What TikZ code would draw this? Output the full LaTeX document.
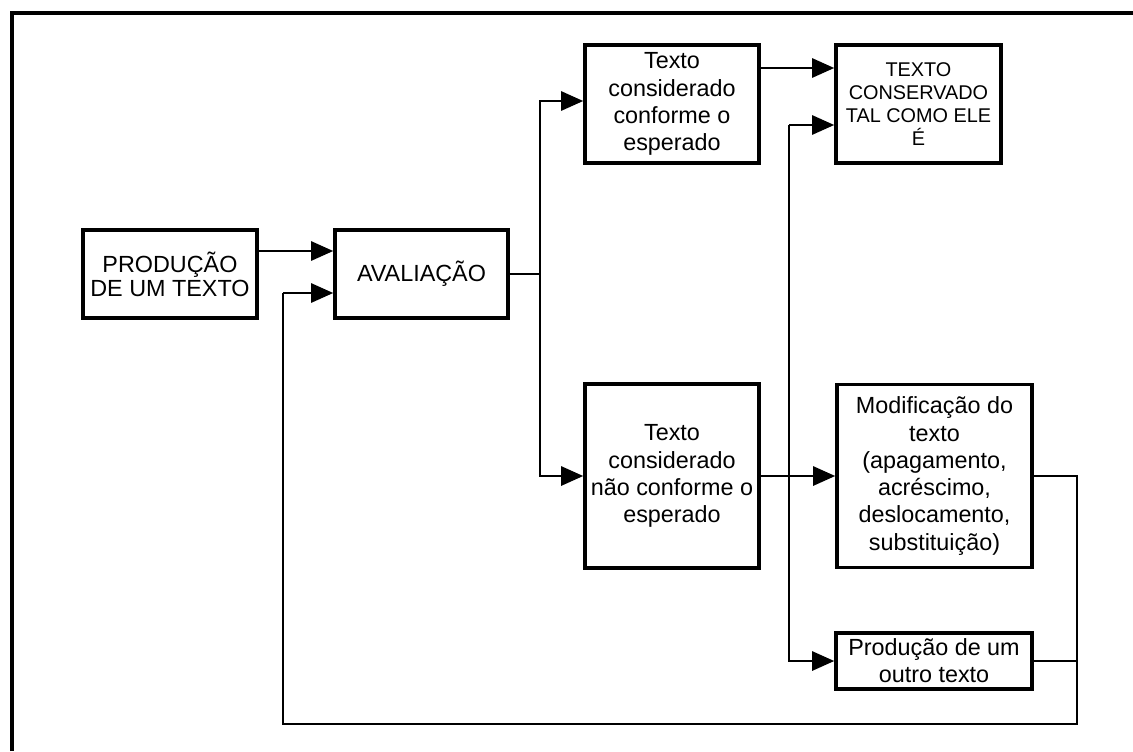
\documentclass[tikz,border=0pt]{standalone}
\usepackage{fontspec}
\setmainfont{Liberation Sans}
\usetikzlibrary{calc}
\usetikzlibrary{positioning}
\usetikzlibrary{arrows.meta}

\begin{document}
\begin{tikzpicture}[x=0.02cm, y=-0.02cm, black, line width = 0.9pt,
    box/.style = {draw, line width = 2.1pt, align = center, inner sep = 0pt, font = \fontsize{13.3pt}{15.5pt}\selectfont},
    arr/.style = {-{Triangle[length = 12.5pt, width = 11pt]}}]

    \useasboundingbox (0,0) rectangle (1133,751);
    \draw[line width = 2.3pt] (12,751) -- (12,13) -- (1133,13);

    \begin{scope}

        \node (prod)  at (170,274)   [box, minimum width = 3.48cm, minimum height = 1.76cm, font = \fontsize{13.3pt}{13.7pt}\selectfont] {PRODUÇÃO\\DE UM TEXTO};
        \node (aval)  at (421.5,274) [box, minimum width = 3.46cm, minimum height = 1.76cm] {AVALIAÇÃO};

        \node (conf)  at (672,104)   [box, minimum width = 3.48cm, minimum height = 2.36cm] {Texto\\considerado\\conforme o\\esperado};
        \node (cons)  at (918.5,104) [box, minimum width = 3.30cm, minimum height = 2.36cm, font = \fontsize{11.3pt}{13.2pt}\selectfont] {TEXTO\\CONSERVADO\\TAL COMO ELE\\É};

        \node (nconf) at (672,476)   [box, minimum width = 3.48cm, minimum height = 3.68cm] {Texto\\considerado\\não conforme o\\esperado};
        \node (modif) at (934.5,476) [box, minimum width = 3.90cm, minimum height = 3.66cm] {Modificação do\\texto\\(apagamento,\\acréscimo,\\deslocamento,\\substituição)};
        \node (outro) at (934,661)   [box, minimum width = 3.92cm, minimum height = 1.12cm] {Produção de um\\outro texto};

        \coordinate (r1) at (0,251);
        \coordinate (r2) at (0,68);
        \coordinate (r3) at (0,101);
        \coordinate (j1) at (540,274);
        \coordinate (j2) at (789,125);
        \coordinate (j3) at (1077,724);
        \coordinate (j4) at (283,293);

        % avaliacao
        \draw[arr] (prod.east |- r1) -- (aval.west |- r1);
        \draw (aval.east) -- (j1);
        \draw[arr] (j1) |- (conf.west |- r3);
        \draw[arr] (j1) |- (nconf.west);

        % decisao
        \draw[arr] (conf.east |- r2) -- (cons.west |- r2);
        \draw[arr] (j2) -- (j2 -| cons.west);
        \draw[arr] (j2) |- (outro.west);
        \draw[arr] (nconf.east) -- (modif.west);

        % retorno
        \draw (modif.east) -| (j3) -| (j4);
        \draw (outro.east) -- (outro.east -| j3);
        \draw[arr] (j4) -- (j4 -| aval.west);
    \end{scope}

\end{tikzpicture}
\end{document}
